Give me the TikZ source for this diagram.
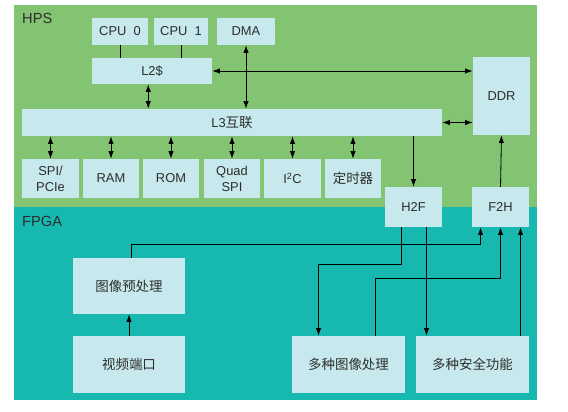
\documentclass[tikz,border=0pt]{standalone}
\usepackage{fontspec}
\setmainfont{Liberation Sans}
\newfontfamily\cjk{Noto Sans CJK SC}
\usetikzlibrary{arrows.meta,calc}

\definecolor{hpsgreen}{RGB}{130,196,114}
\definecolor{fpgateal}{RGB}{22,184,176}
\definecolor{blkfill}{RGB}{199,232,236}
\definecolor{txt}{RGB}{45,45,45}
\newcommand{\zh}[1]{{\fontsize{11.5}{13}\selectfont\cjk #1}}

\begin{document}
\begin{tikzpicture}[x=0.03cm, y=-0.03cm, >={Latex[length=6.5pt,width=4.5pt]},
	blk/.style={fill=blkfill, text=txt, inner sep=0pt, align=center, font=\fontsize{11}{13.5}\selectfont},
	sz/.style 2 args={minimum width=#1*0.03cm, minimum height=#2*0.03cm},
	area/.style={text=txt, anchor=west, inner sep=0pt, font=\fontsize{12.5}{14}\selectfont},
	wire/.style={line width=0.7pt, black}]

\useasboundingbox (0,0) rectangle (568,411);
\fill[hpsgreen] (14,5) rectangle (537,207);
\fill[fpgateal] (14,207) rectangle (537,400);

\node[area] (hps) at (22,18) {HPS};
\node[area] (fpga) at (22,221) {FPGA};

% HPS
\node[blk, sz={56}{27}] (cpu0) at (120,31.5) {CPU\ \ 0};
\node[blk, sz={54}{27}] (cpu1) at (181,31.5) {CPU\ \ 1};
\node[blk, sz={58}{27}] (dma) at (246,31.5) {DMA};
\node[blk, sz={120}{26}] (l2) at (152,71) {L2\$};
\node[blk, sz={420}{27}] (l3) at (232,122.5) {L3\zh{互联}};
\node[blk, sz={57}{78}] (ddr) at (501.5,96) {DDR};
\node[blk, sz={57}{39}] (spi) at (50.5,178.5) {SPI/\\PCIe};
\node[blk, sz={56}{39}] (ram) at (111,178.5) {RAM};
\node[blk, sz={56}{39}] (rom) at (171,178.5) {ROM};
\node[blk, sz={56}{39}] (quad) at (232,178.5) {Quad\\SPI};
\node[blk, sz={57}{39}] (iic) at (292.5,178.5) {I\textsuperscript{2}C};
\node[blk, sz={56}{39}] (timer) at (353,178.5) {\zh{定时器}};
\node[blk, sz={57}{40}] (h2f) at (413.5,207) {H2F};
\node[blk, sz={57}{40}] (f2h) at (500.5,207) {F2H};

% FPGA
\node[blk, sz={112}{56}] (pre) at (129,286) {\zh{图像预处理}};
\node[blk, sz={112}{57}] (vid) at (129,364.5) {\zh{视频端口}};
\node[blk, sz={113}{57}] (imgproc) at (348.5,364.5) {\zh{多种图像处理}};
\node[blk, sz={113}{57}] (sec) at (472.5,364.5) {\zh{多种安全功能}};

\draw[wire] (cpu0.south) -- (cpu0.south |- l2.north);
\draw[wire] (cpu1.south) -- (cpu1.south |- l2.north);
\draw[wire, <->] (dma.south) -- (dma.south |- l3.north);
\draw[wire, <->] (l2.east) -- (l2.east -| ddr.west);
\draw[wire, <->] (cpu0.east |- l2.south) -- (cpu0.east |- l3.north);
\draw[wire, <->] (l3.east) -- (l3.east -| ddr.west);
\foreach \n in {spi,ram,rom,quad,iic,timer}
	\draw[wire, <->] (\n.north) -- (\n.north |- l3.south);
\draw[wire, ->] (l3.south -| h2f) -- (h2f.north);
\draw[wire, ->] (f2h.north) -- (ddr.south);

\coordinate (h2fb) at ($(h2f.south)+(13,0)$);
\draw[wire, ->] (vid.north) -- (pre.south);
\draw[wire, ->] ($(pre.north)+(2,0)$) -- ++(0,-13) -| ($(f2h.south)+(-20,0)$);
\draw[wire, ->] ($(h2f.south)+(-12,0)$) -- ++(0,37) -| ($(imgproc.north)+(-30,0)$);
\draw[wire, ->] (h2fb) -- (h2fb |- sec.north);
\draw[wire, ->] ($(imgproc.north)+(27,0)$) -- ++(0,-57) -| (f2h.south);
\draw[wire, ->] ($(sec.north)+(48,0)$) -- ($(f2h.south)+(20,0)$);
\end{tikzpicture}
\end{document}
